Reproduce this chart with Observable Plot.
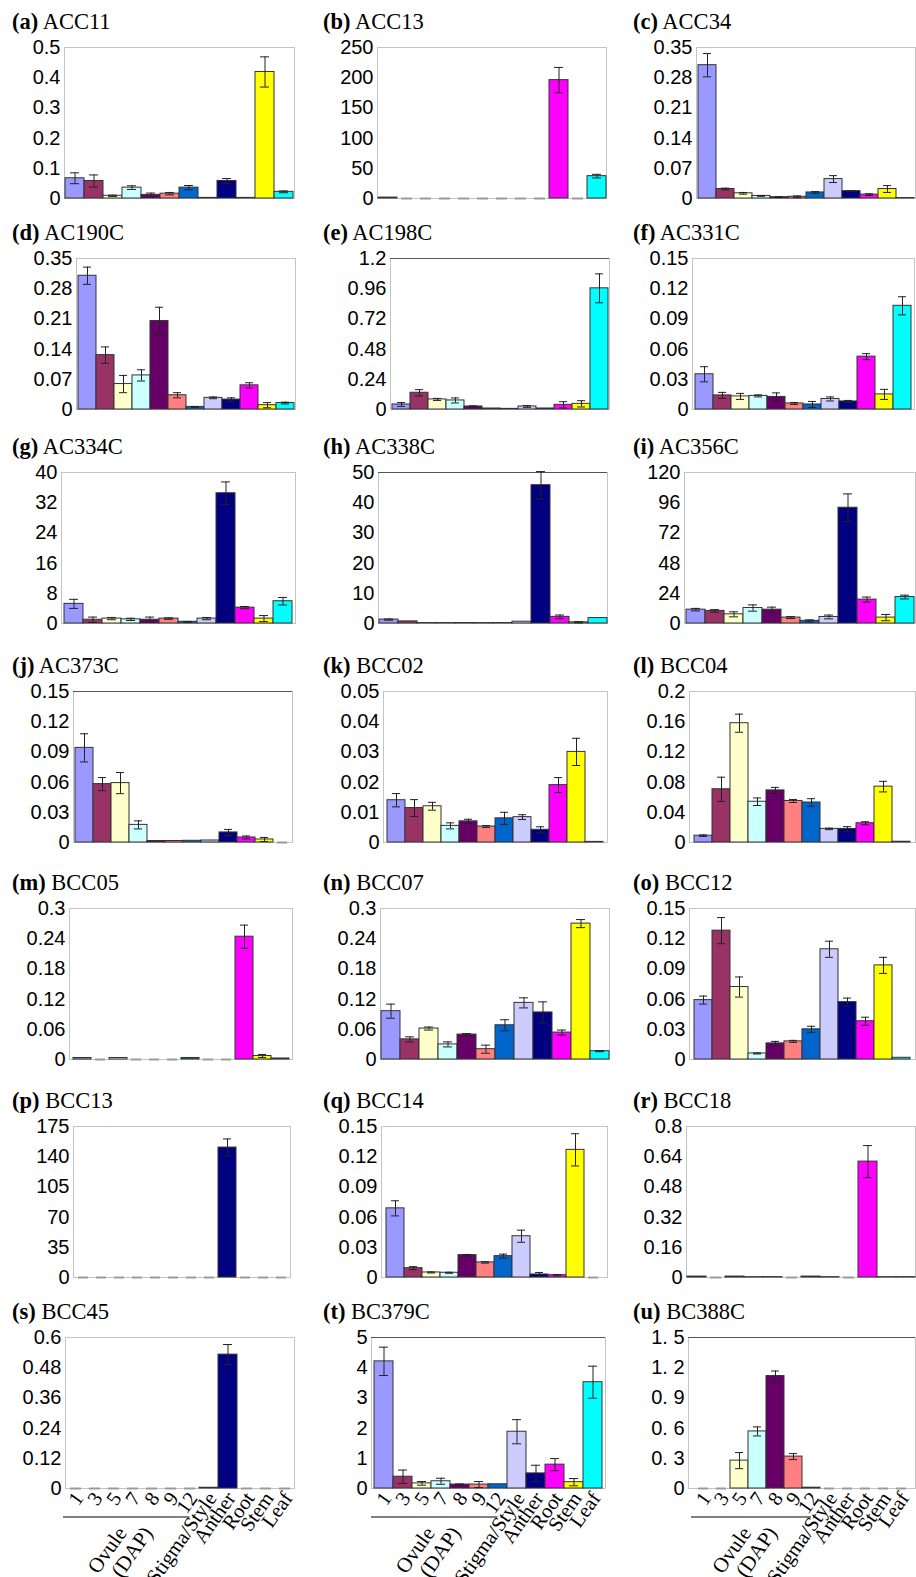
<!DOCTYPE html>
<html><head><meta charset="utf-8">
<script src="https://cdn.jsdelivr.net/npm/d3@7"></script>
<script src="https://cdn.jsdelivr.net/npm/@observablehq/plot@0.6"></script>
<style>
html,body{margin:0;padding:0;background:#fff;}
body{width:916px;height:1577px;overflow:hidden;position:relative;}
.panel{position:absolute;}
.title{position:absolute;font-family:"Liberation Serif","Times New Roman",serif;font-size:22.5px;white-space:nowrap;line-height:22px;color:#000;}
.title b{font-weight:bold;}
</style></head><body><div id="chart"></div><script>
// ---------------- data ----------------
const categories = ["1","3","5","7","8","9","12","Stigma/Style","Anther","Root","Stem","Leaf"];
const barColors = ["#9999ff","#993366","#ffffcc","#ccffff","#660066","#ff8080","#0066cc","#ccccff","#000080","#ff00ff","#ffff00","#00ffff"];
const panelLetters = ["a","b","c","d","e","f","g","h","i","j","k","l","m","n","o","p","q","r","s","t","u"];
const geneNames = ["ACC11","ACC13","ACC34","AC190C","AC198C","AC331C","AC334C","AC338C","AC356C","AC373C","BCC02","BCC04","BCC05","BCC07","BCC12","BCC13","BCC14","BCC18","BCC45","BC379C","BC388C"];
const groupLabels = ["Ovule", "(DAP)"];

const acc11 = [0.067,0.058,0.009,0.036,0.012,0.016,0.036,0.002,0.058,0.002,0.419,0.022];
const acc11Err = [0.018,0.02,0.002,0.006,0.006,0.004,0.007,0,0.008,0,0.05,0.003];
const acc13 = [1.5,0,0,0,0,0,0,0,0,196,0,37];
const acc13Err = [0,0,0,0,0,0,0,0,0,21,0,3];
const acc34 = [0.309,0.022,0.012,0.006,0.003,0.004,0.014,0.045,0.017,0.009,0.022,0.001];
const acc34Err = [0.027,0.002,0.002,0.001,0.001,0.002,0.002,0.008,0.001,0.002,0.008,0];
const ac190c = [0.310,0.126,0.059,0.079,0.205,0.033,0.006,0.027,0.023,0.056,0.010,0.015];
const ac190cErr = [0.02,0.019,0.02,0.013,0.032,0.006,0.001,0.002,0.004,0.006,0.006,0.002];
const ac198c = [0.04,0.133,0.08,0.072,0.024,0.008,0.005,0.024,0.008,0.037,0.045,0.963];
const ac198cErr = [0.015,0.025,0.008,0.02,0.005,0,0,0.007,0,0.025,0.025,0.115];
const ac331c = [0.035,0.014,0.013,0.0135,0.0125,0.006,0.005,0.0105,0.008,0.0525,0.015,0.103];
const ac331cErr = [0.0075,0.003,0.003,0.001,0.004,0.001,0.003,0.002,0.001,0.003,0.005,0.009];
const ac334c = [5.2,1.0,1.3,1.1,1.0,1.3,0.45,1.3,34.5,4.2,1.3,5.9];
const ac334cErr = [1.2,0.7,0.3,0.3,0.7,0.2,0.1,0.3,3,0.3,0.8,1.0];
const ac338c = [1.3,0.7,0.15,0.15,0.15,0.15,0.15,0.6,45.8,2.2,0.4,1.8];
const ac338cErr = [0.2,0,0,0,0,0,0,0,4.5,0.6,0.2,0];
const ac356c = [11,10,7.3,12.3,11,4.7,2.1,5.2,92,19,4.7,21];
const ac356cErr = [1,1,2,2.5,2,0.8,0.8,1.5,11,2,2.5,1.5];
const ac373c = [0.094,0.058,0.059,0.0175,0.0015,0.0015,0.0017,0.002,0.010,0.005,0.003,0];
const ac373cErr = [0.014,0.0065,0.0105,0.004,0,0,0,0,0.003,0.0015,0.002,0];
const bcc02 = [0.014,0.0114,0.012,0.0055,0.007,0.0053,0.008,0.0084,0.0042,0.019,0.030,0.0002];
const bcc02Err = [0.0022,0.0028,0.0013,0.001,0.0007,0.0003,0.002,0.0008,0.001,0.0025,0.0045,0];
const bcc04 = [0.009,0.0705,0.158,0.054,0.069,0.055,0.053,0.018,0.018,0.0255,0.074,0.001];
const bcc04Err = [0.001,0.016,0.012,0.005,0.004,0.002,0.005,0.001,0.003,0.002,0.007,0];
const bcc05 = [0.003,0,0.003,0,0,0,0.003,0,0,0.244,0.007,0.002];
const bcc05Err = [0,0,0,0,0,0,0,0,0,0.023,0.003,0];
const bcc07 = [0.096,0.04,0.0615,0.03,0.0495,0.0205,0.068,0.1125,0.0935,0.0535,0.27,0.0165];
const bcc07Err = [0.014,0.005,0.003,0.005,0.002,0.008,0.011,0.01,0.021,0.005,0.008,0.001];
const bcc12 = [0.059,0.128,0.072,0.006,0.016,0.018,0.030,0.1095,0.057,0.038,0.0935,0.0017];
const bcc12Err = [0.004,0.013,0.01,0.0005,0.002,0.001,0.003,0.008,0.004,0.004,0.008,0];
const bcc13 = [0,0,0,0,0,0,0,0,150.6,0,0,0];
const bcc13Err = [0,0,0,0,0,0,0,0,10,0,0,0];
const bcc14 = [0.0687,0.0093,0.005,0.0047,0.0222,0.015,0.0212,0.041,0.003,0.0023,0.1268,0];
const bcc14Err = [0.0075,0.0015,0.0005,0.0005,0.0007,0.0007,0.002,0.006,0.002,0.0007,0.016,0];
const bcc18 = [0.005,0,0.005,0.002,0.002,0,0.005,0.002,0,0.614,0.002,0.002];
const bcc18Err = [0,0,0,0,0,0,0,0,0,0.085,0,0];
const bcc45 = [0,0,0,0,0,0,0,0.003,0.532,0,0,0];
const bcc45Err = [0,0,0,0,0,0,0,0,0.04,0,0,0];
const bc379c = [4.21,0.39,0.17,0.24,0.13,0.13,0.14,1.88,0.5,0.79,0.21,3.52];
const bc379cErr = [0.47,0.22,0.06,0.1,0.02,0.1,0,0.4,0.27,0.2,0.12,0.53];
const bc388c = [0,0,0.277,0.567,1.117,0.317,0.008,0,0,0,0,0];
const bc388cErr = [0,0,0.08,0.045,0.05,0.03,0,0,0,0,0,0];

const ticks007 = [0,0.07,0.14,0.21,0.28,0.35];
const ticks003 = [0,0.03,0.06,0.09,0.12,0.15];
const ticks006 = [0,0.06,0.12,0.18,0.24,0.3];
const yTicks = [
  [0,0.1,0.2,0.3,0.4,0.5],[0,50,100,150,200,250],ticks007,
  ticks007,[0,0.24,0.48,0.72,0.96,1.2],ticks003,
  [0,8,16,24,32,40],[0,10,20,30,40,50],[0,24,48,72,96,120],
  ticks003,[0,0.01,0.02,0.03,0.04,0.05],[0,0.04,0.08,0.12,0.16,0.2],
  ticks006,ticks006,ticks003,
  [0,35,70,105,140,175],ticks003,[0,0.16,0.32,0.48,0.64,0.8],
  [0,0.12,0.24,0.36,0.48,0.6],[0,1,2,3,4,5],[0,0.3,0.6,0.9,1.2,1.5]
];
const means = [acc11,acc13,acc34,ac190c,ac198c,ac331c,ac334c,ac338c,ac356c,ac373c,bcc02,bcc04,bcc05,bcc07,bcc12,bcc13,bcc14,bcc18,bcc45,bc379c,bc388c];
const errs = [acc11Err,acc13Err,acc34Err,ac190cErr,ac198cErr,ac331cErr,ac334cErr,ac338cErr,ac356cErr,ac373cErr,bcc02Err,bcc04Err,bcc05Err,bcc07Err,bcc12Err,bcc13Err,bcc14Err,bcc18Err,bcc45Err,bc379cErr,bc388cErr];

// ---------------- layout & style ----------------
const rowFrameTop = [47, 258, 472, 691, 908, 1126, 1337];
const plotH = 151;
const frameLR = [[64,294],[377,606],[696,915],[76,295],[390,609],[692,914],[61,295],[378,607],[684,915],[73,292],[383,607],[689,915],[69,292],[380,609],[689,915],[73,290],[381,607],[686,915],[65,294],[371,605],[688,915]];
const titleX = [12, 323, 633];
const darkTopPanels = ["e","h","j","t","u"];

const chart = document.getElementById("chart");
const axisFont = "Liberation Sans, Arial, Helvetica, sans-serif";
const serifFont = "Liberation Serif, Times New Roman, serif";

for (let i = 0; i < 21; i++) {
  const row = Math.floor(i / 3), col = i % 3;
  const [L, R] = frameLR[i];
  const isBottom = row === 6;
  const mL = 60, mR = 1, mT = 12, mB = isBottom ? 90 : 2;
  const width = mL + (R - L) + mR;
  const height = mT + plotH + mB;
  const data = categories.map((c, j) => ({cat: c, color: barColors[j], v: means[i][j], e: errs[i][j]}));
  const withErr = data.filter(d => d.e > 0);
  const zeros = data.filter(d => d.v === 0);
  const ticks = yTicks[i];
  const yMax = ticks[ticks.length - 1];
  const fmt = i === 20 ? (d => d === 0 ? "0" : String(d).replace(".", ". ")) : (d => String(d));
  const marks = [
    Plot.frame({stroke: "#c4c4c4"}),
    darkTopPanels.includes(panelLetters[i]) ? Plot.ruleY([yMax], {stroke: "#555", strokeWidth: 1.2}) : null,
    Plot.barY(data, {x: "cat", y: "v", fill: "color", stroke: "#333", strokeWidth: 1}),
    Plot.tickY(zeros, {x: "cat", y: () => 0, stroke: "#9a9a9a", strokeWidth: 2, insetLeft: 4, insetRight: 4}),
    Plot.ruleX(withErr, {x: "cat", y1: d => Math.max(0, d.v - d.e), y2: d => d.v + d.e, stroke: "#222", strokeWidth: 1}),
    Plot.tickY(withErr, {x: "cat", y: d => d.v + d.e, stroke: "#222", strokeWidth: 1, insetLeft: 5, insetRight: 5}),
    Plot.tickY(withErr, {x: "cat", y: d => Math.max(0, d.v - d.e), stroke: "#222", strokeWidth: 1, insetLeft: 5, insetRight: 5}),
    Plot.axisY({ticks, tickSize: 0, tickPadding: 4, tickFormat: fmt, fontSize: 20, fontFamily: axisFont, label: null})
  ];
  if (isBottom) {
    marks.push(Plot.axisX({tickRotate: -55, tickSize: 0, tickPadding: 6, dx: 3, fontSize: 20.5, fontFamily: serifFont, label: null}));
  }
  const plot = Plot.plot({
    width, height, marginLeft: mL, marginRight: mR, marginTop: mT, marginBottom: mB,
    style: {background: "transparent", color: "#000", overflow: "visible"},
    x: isBottom ? {domain: categories, padding: 0, label: null} : {domain: categories, padding: 0, axis: null},
    y: {domain: [0, yMax], label: null},
    color: {type: "identity"},
    marks
  });
  if (isBottom) {
    const xs = plot.scale("x");
    const bw = xs.bandwidth;
    const axisY = mT + plotH;
    const svg = d3.select(plot);
    svg.append("line")
      .attr("x1", xs.apply("1") - 3).attr("x2", xs.apply("12") + bw / 2)
      .attr("y1", axisY + 29).attr("y2", axisY + 29)
      .attr("stroke", "#000").attr("stroke-width", 1);
    const cx = xs.apply("7") + bw / 2;
    [[groupLabels[0], -5], [groupLabels[1], 21]].forEach(([t, dx]) => {
      const ax = cx + dx, ay = axisY + 45;
      svg.append("text").text(t)
        .attr("transform", `translate(${ax},${ay}) rotate(-55)`)
        .attr("text-anchor", "end")
        .attr("font-family", serifFont).attr("font-size", 21).attr("fill", "#000");
    });
  }
  const wrap = document.createElement("div");
  wrap.className = "panel";
  wrap.style.left = (L - mL) + "px";
  wrap.style.top = (rowFrameTop[row] - mT) + "px";
  wrap.appendChild(plot);
  chart.appendChild(wrap);

  const title = document.createElement("div");
  title.className = "title";
  title.style.left = titleX[col] + "px";
  title.style.top = (rowFrameTop[row] - 36) + "px";
  title.innerHTML = `<b>(${panelLetters[i]})</b> ${geneNames[i]}`;
  chart.appendChild(title);
}
</script></body></html>
